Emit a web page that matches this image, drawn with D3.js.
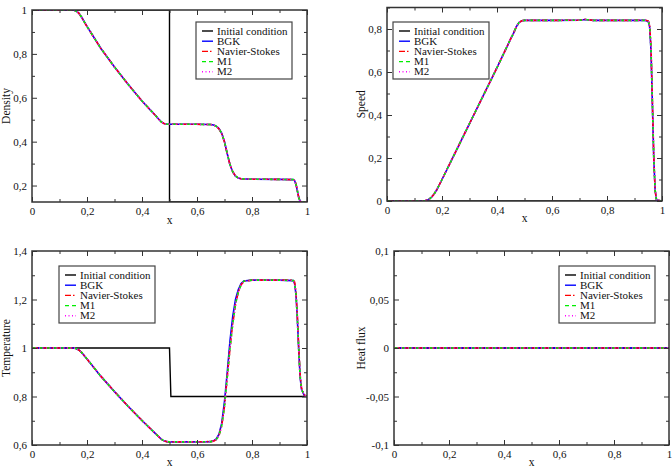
<!DOCTYPE html>
<html>
<head>
<meta charset="utf-8">
<script src="https://cdn.jsdelivr.net/npm/d3@7"></script>
<style>
body { margin: 0; background: #fff; }
svg { display: block; }
</style>
</head>
<body>
<svg id="chart" width="672" height="468"></svg>
<script>

// ---- data ----
var seriesNames = ["Initial condition", "BGK", "Navier-Stokes", "M1", "M2"];

var xTicks = [0, 0.2, 0.4, 0.6, 0.8, 1];
var xMinor = [0.1, 0.3, 0.5, 0.7, 0.9];

// density
var densityTicks = [0.2, 0.4, 0.6, 0.8, 1];
var densityMinor = [0.3, 0.5, 0.7, 0.9];
var densityInitX = [0, 0.5, 0.5, 1];
var densityInit = [1, 1, 0.125, 0.125];
var densityX = [0, 0.15, 0.16, 0.17, 0.18, 0.2, 0.25, 0.3, 0.35, 0.4, 0.45, 0.46, 0.47, 0.48, 0.49, 0.5, 0.6, 0.65, 0.66, 0.67, 0.68, 0.69, 0.7, 0.71, 0.72, 0.73, 0.74, 0.75, 0.76, 0.8, 0.9, 0.95, 0.955, 0.96, 0.965, 0.97, 0.975, 0.98, 1];
var densityBGK = [1, 1, 0.996, 0.986, 0.968, 0.925, 0.826, 0.74, 0.66, 0.585, 0.518, 0.503, 0.49, 0.483, 0.48, 0.479, 0.479, 0.478, 0.476, 0.471, 0.46, 0.438, 0.4, 0.345, 0.295, 0.262, 0.243, 0.234, 0.231, 0.229, 0.228, 0.227, 0.222, 0.205, 0.175, 0.145, 0.128, 0.125, 0.125];
var densityNS = [1, 1, 0.996, 0.986, 0.967, 0.924, 0.826, 0.74, 0.66, 0.585, 0.518, 0.503, 0.49, 0.483, 0.48, 0.479, 0.479, 0.478, 0.476, 0.47, 0.458, 0.436, 0.398, 0.344, 0.295, 0.263, 0.244, 0.235, 0.231, 0.229, 0.228, 0.227, 0.223, 0.207, 0.177, 0.146, 0.129, 0.125, 0.125];
var densityM1 = [1, 1, 0.996, 0.986, 0.968, 0.925, 0.826, 0.74, 0.66, 0.585, 0.518, 0.503, 0.49, 0.483, 0.48, 0.479, 0.479, 0.478, 0.476, 0.471, 0.459, 0.437, 0.399, 0.345, 0.296, 0.263, 0.244, 0.234, 0.231, 0.229, 0.228, 0.227, 0.222, 0.206, 0.176, 0.146, 0.128, 0.125, 0.125];
var densityM2 = [1, 1, 0.996, 0.986, 0.968, 0.925, 0.826, 0.74, 0.66, 0.585, 0.518, 0.503, 0.49, 0.483, 0.48, 0.479, 0.479, 0.478, 0.476, 0.471, 0.459, 0.437, 0.399, 0.345, 0.296, 0.263, 0.244, 0.234, 0.231, 0.229, 0.228, 0.227, 0.222, 0.206, 0.176, 0.146, 0.128, 0.125, 0.125];

// speed
var speedTicks = [0, 0.2, 0.4, 0.6, 0.8];
var speedMinor = [0.1, 0.3, 0.5, 0.7, 0.9];
var speedInitX = [0, 1];
var speedInit = [0, 0];
var speedX = [0, 0.13, 0.14, 0.15, 0.16, 0.17, 0.18, 0.2, 0.25, 0.3, 0.35, 0.4, 0.45, 0.46, 0.47, 0.48, 0.49, 0.5, 0.6, 0.7, 0.72, 0.75, 0.9, 0.94, 0.95, 0.955, 0.96, 0.965, 0.97, 0.975, 0.98, 1];
var speedBGK = [0, 0, 0.002, 0.006, 0.015, 0.03, 0.05, 0.1, 0.23, 0.36, 0.49, 0.62, 0.755, 0.78, 0.81, 0.83, 0.838, 0.84, 0.84, 0.841, 0.844, 0.84, 0.84, 0.84, 0.835, 0.81, 0.7, 0.45, 0.2, 0.05, 0.005, 0];
var speedNS = [0, 0, 0.002, 0.006, 0.015, 0.03, 0.05, 0.1, 0.23, 0.36, 0.49, 0.62, 0.755, 0.78, 0.81, 0.83, 0.838, 0.84, 0.84, 0.841, 0.845, 0.84, 0.84, 0.841, 0.838, 0.82, 0.72, 0.47, 0.21, 0.05, 0.005, 0];
var speedM1 = [0, 0, 0.002, 0.006, 0.015, 0.03, 0.05, 0.1, 0.23, 0.36, 0.49, 0.62, 0.755, 0.78, 0.81, 0.83, 0.838, 0.84, 0.84, 0.841, 0.844, 0.84, 0.84, 0.84, 0.836, 0.815, 0.71, 0.46, 0.2, 0.05, 0.005, 0];
var speedM2 = [0, 0, 0.002, 0.006, 0.015, 0.03, 0.05, 0.1, 0.23, 0.36, 0.49, 0.62, 0.755, 0.78, 0.81, 0.83, 0.838, 0.84, 0.84, 0.841, 0.844, 0.84, 0.84, 0.84, 0.836, 0.815, 0.71, 0.46, 0.2, 0.05, 0.005, 0];

// temperature
var temperatureTicks = [0.6, 0.8, 1, 1.2, 1.4];
var temperatureMinor = [0.7, 0.9, 1.1, 1.3];
var temperatureInitX = [0, 0.5, 0.505, 1];
var temperatureInit = [1, 1, 0.8, 0.8];
var temperatureX = [0, 0.15, 0.16, 0.17, 0.18, 0.2, 0.25, 0.3, 0.35, 0.4, 0.45, 0.46, 0.47, 0.48, 0.49, 0.5, 0.6, 0.65, 0.66, 0.67, 0.68, 0.69, 0.7, 0.71, 0.72, 0.73, 0.74, 0.75, 0.76, 0.77, 0.8, 0.9, 0.95, 0.955, 0.96, 0.965, 0.97, 0.975, 0.98, 0.99, 1];
var temperatureBGK = [1, 1, 0.998, 0.992, 0.982, 0.955, 0.884, 0.82, 0.759, 0.701, 0.646, 0.635, 0.624, 0.617, 0.614, 0.613, 0.613, 0.614, 0.617, 0.625, 0.645, 0.69, 0.78, 0.9, 1.03, 1.13, 1.2, 1.24, 1.265, 1.276, 1.28, 1.28, 1.278, 1.265, 1.22, 1.12, 0.99, 0.88, 0.83, 0.805, 0.8];
var temperatureNS = [1, 1, 0.998, 0.992, 0.982, 0.955, 0.884, 0.82, 0.759, 0.701, 0.646, 0.635, 0.624, 0.617, 0.614, 0.613, 0.613, 0.614, 0.616, 0.622, 0.64, 0.68, 0.76, 0.88, 1.0, 1.1, 1.18, 1.23, 1.26, 1.275, 1.28, 1.28, 1.28, 1.272, 1.23, 1.13, 1.0, 0.89, 0.835, 0.806, 0.8];
var temperatureM1 = [1, 1, 0.998, 0.992, 0.982, 0.955, 0.884, 0.82, 0.759, 0.701, 0.646, 0.635, 0.624, 0.617, 0.614, 0.613, 0.613, 0.614, 0.616, 0.622, 0.64, 0.68, 0.76, 0.88, 1.0, 1.1, 1.18, 1.23, 1.26, 1.275, 1.28, 1.28, 1.278, 1.266, 1.22, 1.12, 0.99, 0.88, 0.83, 0.805, 0.8];
var temperatureM2 = [1, 1, 0.998, 0.992, 0.982, 0.955, 0.884, 0.82, 0.759, 0.701, 0.646, 0.635, 0.624, 0.617, 0.614, 0.613, 0.613, 0.614, 0.616, 0.622, 0.64, 0.68, 0.76, 0.88, 1.0, 1.1, 1.18, 1.23, 1.26, 1.275, 1.28, 1.28, 1.278, 1.266, 1.22, 1.12, 0.99, 0.88, 0.83, 0.805, 0.8];

// heat flux
var fluxTicks = [-0.1, -0.05, 0, 0.05, 0.1];
var fluxMinor = [-0.075, -0.025, 0.025, 0.075];
var fluxInitX = [0, 1];
var fluxInit = [0, 0];
var fluxX = [0, 0.25, 0.5, 0.75, 1];
var fluxBGK = [0, 0, 0, 0, 0];
var fluxNS = [0, 0, 0, 0, 0];
var fluxM1 = [0, 0, 0, 0, 0];
var fluxM2 = [0, 0, 0, 0, 0];

// ---- styles ----
var colors = ["#000000", "#0000ff", "#ff0000", "#00ee00", "#ff00ff"];
var dashes = [null, null, "6,2,1.5,2", "4,3", "1,2.5"];
var serif = '"Liberation Serif", "Times New Roman", "DejaVu Serif", serif';

var fmt = d3.formatLocale({decimal: ",", thousands: ".", grouping: [3], currency: ["", ""], minus: "-"}).format("~g");

var svg = d3.select("#chart").attr("font-family", serif);

var panels = [
    {id: "p1", label: "Density", left: 32, top: 10, w: 275, h: 192, dom: [0.125, 1],
     ticks: densityTicks, minor: densityMinor,
     lines: [[densityInitX, densityInit], [densityX, densityBGK], [densityX, densityNS], [densityX, densityM1], [densityX, densityM2]],
     legend: [196, 22], ylab: 10, xlab: 224},
    {id: "p2", label: "Speed", left: 387, top: 7.5, w: 275, h: 193.5, dom: [0, 0.9],
     ticks: speedTicks, minor: speedMinor,
     lines: [[speedInitX, speedInit], [speedX, speedBGK], [speedX, speedNS], [speedX, speedM1], [speedX, speedM2]],
     legend: [393, 22], ylab: 365, xlab: 222},
    {id: "p3", label: "Temperature", left: 32, top: 251, w: 275, h: 194, dom: [0.6, 1.4],
     ticks: temperatureTicks, minor: temperatureMinor,
     lines: [[temperatureInitX, temperatureInit], [temperatureX, temperatureBGK], [temperatureX, temperatureNS], [temperatureX, temperatureM1], [temperatureX, temperatureM2]],
     legend: [59, 266], ylab: 10, xlab: 466},
    {id: "p4", label: "Heat flux", left: 394, top: 251, w: 275, h: 194, dom: [-0.1, 0.1],
     ticks: fluxTicks, minor: fluxMinor,
     lines: [[fluxInitX, fluxInit], [fluxX, fluxBGK], [fluxX, fluxNS], [fluxX, fluxM1], [fluxX, fluxM2]],
     legend: [559, 266], ylab: 365, xlab: 466}
];

panels.forEach(function (p) {
    var x = d3.scaleLinear().domain([0, 1]).range([0, p.w]);
    var y = d3.scaleLinear().domain(p.dom).range([p.h, 0]);

    var g = svg.append("g").attr("transform", "translate(" + p.left + "," + p.top + ")");

    svg.append("clipPath").attr("id", "clip-" + p.id)
        .append("rect").attr("width", p.w).attr("height", p.h);

    // curves
    var line = d3.line()
        .x(function (d) { return x(d[0]); })
        .y(function (d) { return y(d[1]); });

    var curves = g.append("g").attr("clip-path", "url(#clip-" + p.id + ")");
    p.lines.forEach(function (s, i) {
        var pts = s[0].map(function (v, k) { return [v, s[1][k]]; });
        curves.append("path")
            .attr("d", line(pts))
            .attr("fill", "none")
            .attr("stroke", colors[i])
            .attr("stroke-width", i === 0 ? 1.4 : 1.6)
            .attr("stroke-dasharray", dashes[i]);
    });

    // axes, ticks pointing inward on all four sides
    function axis(gen, vals, size, labels, tr) {
        var a = g.append("g").attr("transform", tr || null)
            .call(gen.tickValues(vals).tickSize(-size).tickPadding(labels ? 5 : 0)
                .tickFormat(labels ? fmt : ""));
        a.attr("font-family", serif).attr("font-size", 11);
        a.select(".domain").remove();
        a.selectAll("line").attr("stroke", "#333").attr("stroke-width", 1);
        a.selectAll("text").attr("fill", "#111");
        return a;
    }
    axis(d3.axisBottom(x), xTicks, 5, true, "translate(0," + p.h + ")");
    axis(d3.axisBottom(x), xMinor, 3, false, "translate(0," + p.h + ")");
    axis(d3.axisTop(x), xTicks, 5, false);
    axis(d3.axisTop(x), xMinor, 3, false);
    axis(d3.axisLeft(y), p.ticks, 5, true);
    axis(d3.axisLeft(y), p.minor, 3, false);
    axis(d3.axisRight(y), p.ticks, 5, false, "translate(" + p.w + ",0)");
    axis(d3.axisRight(y), p.minor, 3, false, "translate(" + p.w + ",0)");

    g.append("rect")
        .attr("width", p.w).attr("height", p.h)
        .attr("fill", "none").attr("stroke", "#333").attr("stroke-width", 1.5);

    // axis titles
    svg.append("text")
        .attr("x", p.left + p.w / 2).attr("y", p.xlab)
        .attr("text-anchor", "middle").attr("font-size", 11.5).attr("fill", "#111")
        .text("x");
    svg.append("text")
        .attr("transform", "translate(" + p.ylab + "," + (p.top + p.h / 2) + ") rotate(-90)")
        .attr("text-anchor", "middle").attr("font-size", 11.5).attr("fill", "#111")
        .text(p.label);

    // legend
    var lg = svg.append("g").attr("transform", "translate(" + p.legend[0] + "," + p.legend[1] + ")");
    lg.append("rect").attr("width", 96).attr("height", 57)
        .attr("fill", "#fff").attr("stroke", "#444").attr("stroke-width", 1.2);
    seriesNames.forEach(function (name, i) {
        var cy = 9 + i * 10.2;
        lg.append("line")
            .attr("x1", 6).attr("x2", 17).attr("y1", cy).attr("y2", cy)
            .attr("stroke", colors[i]).attr("stroke-width", 1.4)
            .attr("stroke-dasharray", dashes[i]);
        lg.append("text")
            .attr("x", 21).attr("y", cy + 3.6)
            .attr("font-size", 11).attr("fill", "#111")
            .text(name);
    });
});

</script>
</body>
</html>
